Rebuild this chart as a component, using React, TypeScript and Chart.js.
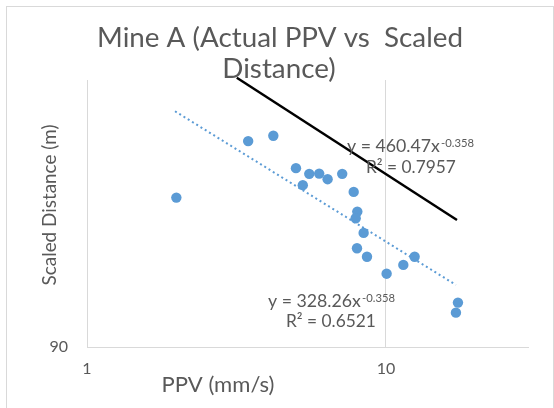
import React, { useEffect, useRef } from "react";
import { Chart, registerables } from "chart.js";

Chart.register(...registerables);

// PPV (mm/s) of each blast record
const ppv = [1.99, 3.46, 4.2, 5.0, 5.27, 5.54, 5.98, 6.38, 7.14, 7.8, 8.02, 7.92, 8.42, 8.0, 8.64, 10.05, 11.43, 12.47, 17.41, 17.14];
// Scaled distance (m)
const scaledDistance = [175.2, 225.4, 230.8, 199.8, 185.2, 194.8, 195.0, 190.2, 194.8, 179.7, 164.6, 159.8, 149.7, 139.8, 134.6, 124.8, 129.8, 134.6, 109.7, 104.9];

// Power trendline (dotted) endpoints: y = 328.26x^-0.358
const fitPpv = [1.97, 17.14];
const fitDistance = [257.5, 118.7];
// Upper line (black) endpoints: y = 460.47x^-0.358
const limitPpv = [3.17, 17.28];
const limitDistance = [298.9, 158.6];

const xTicks = [1, 10];
const yTicks = [90];

const TEXT = "#595959";
const FONT = "Lato, 'Open Sans', sans-serif";

function fitSize(ctx: CanvasRenderingContext2D, text: string, width: number) {
  ctx.font = `20px ${FONT}`;
  const w = ctx.measureText(text).width;
  return (20 * width) / w;
}

function drawText(
  ctx: CanvasRenderingContext2D,
  text: string,
  x: number,
  y: number,
  size: number,
  align: CanvasTextAlign
) {
  ctx.font = `${size}px ${FONT}`;
  ctx.textAlign = align;
  ctx.textBaseline = "alphabetic";
  ctx.fillStyle = TEXT;
  ctx.fillText(text, x, y);
}

const textPlugin = {
  id: "texts",
  afterDraw(chart: any) {
    const ctx: CanvasRenderingContext2D = chart.ctx;
    ctx.save();
    // Title
    const t1 = "Mine A (Actual PPV vs  Scaled";
    const ts = fitSize(ctx, t1, 366);
    drawText(ctx, t1, 280, 47, ts, "center");
    drawText(ctx, "Distance)", 279, 78, ts, "center");

    // Axis titles
    const xt = "PPV (mm/s)";
    drawText(ctx, xt, 218, 392, fitSize(ctx, xt, 113), "center");
    const yt = "Scaled Distance (m)";
    const ys = fitSize(ctx, yt, 161);
    ctx.save();
    ctx.translate(56, 205);
    ctx.rotate(-Math.PI / 2);
    drawText(ctx, yt, 0, 0, ys, "center");
    ctx.restore();

    // Equations
    const eqs = [
      { main: "y = 460.47x", sup: "-0.358", r2: "R² = 0.7957", x: 347, y: 152, rx: 366, ry: 173 },
      { main: "y = 328.26x", sup: "-0.358", r2: "R² = 0.6521", x: 268, y: 307, rx: 286, ry: 327 },
    ];
    for (const e of eqs) {
      const ms = fitSize(ctx, e.main, 93);
      drawText(ctx, e.main, e.x, e.y, ms, "left");
      const ss = fitSize(ctx, e.sup, 33);
      drawText(ctx, e.sup, e.x + 94, e.y - 5.5, ss, "left");
      drawText(ctx, e.r2, e.rx, e.ry, fitSize(ctx, e.r2, 90), "left");
    }
    ctx.restore();
  },
};

export default function App() {
  const ref = useRef<HTMLCanvasElement | null>(null);
  useEffect(() => {
    if (!ref.current) return;
    const blue = "#5b9bd5";
    const chart = new Chart(ref.current, {
      type: "scatter",
      data: {
        datasets: [
          {
            data: ppv.map((x, i) => ({ x, y: scaledDistance[i] })),
            backgroundColor: blue,
            borderColor: blue,
            pointRadius: 5.2,
            pointBorderWidth: 0,
            showLine: false,
            order: 2,
          },
          {
            data: fitPpv.map((x, i) => ({ x, y: fitDistance[i] })),
            borderColor: blue,
            borderWidth: 2,
            borderDash: [2, 3],
            pointRadius: 0,
            showLine: true,
            order: 1,
          },
          {
            data: limitPpv.map((x, i) => ({ x, y: limitDistance[i] })),
            borderColor: "#000000",
            borderWidth: 2.5,
            pointRadius: 0,
            showLine: true,
            clip: false,
            order: 0,
          },
        ],
      },
      options: {
        animation: false,
        responsive: false,
        events: [],
        layout: { padding: { top: 80, right: 25.4, left: 0, bottom: 0 } },
        plugins: {
          legend: { display: false },
          tooltip: { enabled: false },
          title: { display: false },
        },
        scales: {
          x: {
            type: "logarithmic",
            min: 1,
            max: 30,
            afterBuildTicks: (s: any) => {
              s.ticks = xTicks.map((v) => ({ value: v }));
            },
            afterFit: (s: any) => {
              s.height = 61;
            },
            ticks: {
              callback: (v: any) => String(v),
              color: TEXT,
              font: { family: FONT, size: 16 },
              padding: 12,
              autoSkip: false,
              maxRotation: 0,
            },
            grid: { color: "#d9d9d9", drawTicks: false, lineWidth: 1 },
            border: { color: "#d9d9d9", width: 1 },
          },
          y: {
            type: "logarithmic",
            min: 90,
            max: 296,
            afterBuildTicks: (s: any) => {
              s.ticks = yTicks.map((v) => ({ value: v }));
            },
            afterFit: (s: any) => {
              s.width = 87;
            },
            ticks: {
              callback: (v: any) => String(v),
              color: TEXT,
              font: { family: FONT, size: 16 },
              padding: 19,
            },
            grid: { display: false, drawTicks: false },
            border: { display: true, color: "#d9d9d9", width: 1 },
          },
        },
      },
      plugins: [textPlugin],
    } as any);
    return () => chart.destroy();
  }, []);

  return (
    <div style={{ position: "fixed", left: 0, top: 0, width: 554, height: 408, background: "#fff", overflow: "hidden" }}>
      <div
        style={{
          position: "absolute",
          left: 6,
          top: 6,
          width: 546,
          height: 420,
          border: "1px solid #d9d9d9",
        }}
      />
      <canvas ref={ref} width={554} height={408} style={{ position: "absolute", left: 0, top: 0, width: 554, height: 408 }} />
    </div>
  );
}
